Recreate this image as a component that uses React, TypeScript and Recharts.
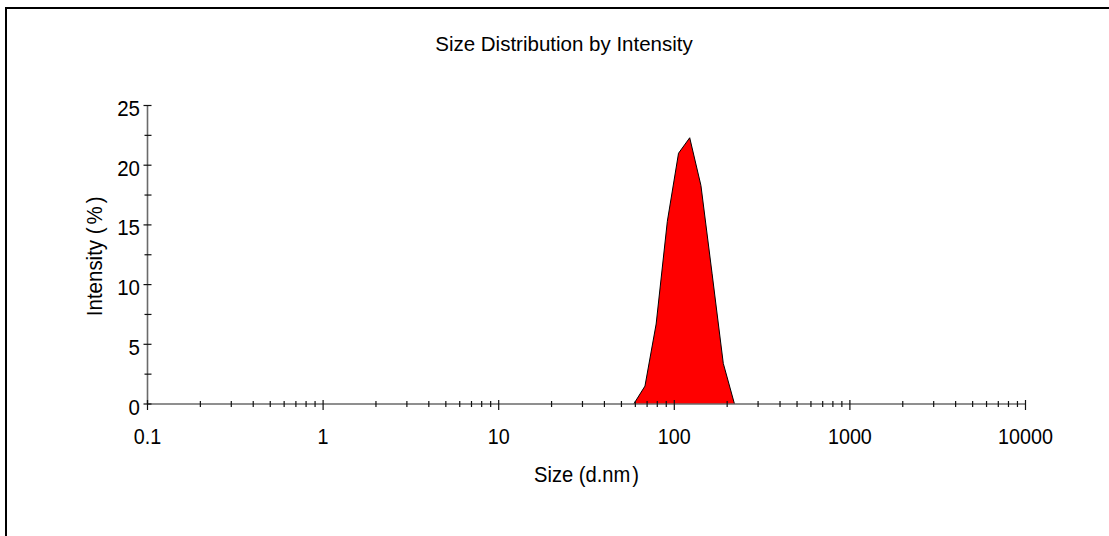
import React from 'react';
import { AreaChart, Area, XAxis, YAxis } from 'recharts';

// Particle size bins (d.nm) and intensity (%)
const sizes = [58.77, 68.06, 78.82, 91.28, 105.7, 122.4, 141.8, 164.2, 190.1, 220.2];
const intensity = [0, 1.5, 6.7, 15.3, 21.0, 22.3, 18.3, 10.9, 3.4, 0];

const xMajorTicks = [0.1, 1, 10, 100, 1000, 10000];
const xMajorLabels = ['0.1', '1', '10', '100', '1000', '10000'];
const xMinorMultipliers = [2, 3, 4, 5, 6, 7, 8, 9];
const yMajorTicks = [0, 5, 10, 15, 20, 25];
const yMinorTicks = [2.5, 7.5, 12.5, 17.5, 22.5];

const title = 'Size Distribution by Intensity';
const xLabelMain = 'Size (d.nm';
const xLabelEnd = ')';
const yLabelMain = 'Intensity (';
const yLabelPct = '%';
const yLabelEnd = ')';

const data = sizes.map((s, i) => ({ size: s, intensity: intensity[i] }));

const xAllTicks: number[] = [];
xMajorTicks.forEach((t, i) => {
  xAllTicks.push(t);
  if (i < xMajorTicks.length - 1) xMinorMultipliers.forEach((m) => xAllTicks.push(t * m));
});
const yAllTicks = [...yMajorTicks, ...yMinorTicks].sort((a, b) => a - b);

const FONT = '"Liberation Sans", Arial, sans-serif';

const majorIndex = (arr: number[], v: number) =>
  arr.findIndex((t) => Math.abs(t - v) / Math.max(t, 1e-9) < 1e-6 || Math.abs(t - v) < 1e-9);

const XTick = (props: any) => {
  const { x, y, payload } = props;
  const idx = majorIndex(xMajorTicks, payload.value);
  const major = idx >= 0;
  return (
    <g>
      <line x1={x} x2={x} y1={y - (major ? 4 : 3)} y2={y + (major ? 6 : 3)} stroke="#111" strokeWidth={1.2} />
      {major && (
        <text
          transform={`translate(${x}, ${y + 39.5}) scale(0.94, 1.06)`}
          textAnchor="middle"
          fontFamily={FONT}
          fontSize={21}
          fill="#000"
        >
          {xMajorLabels[idx]}
        </text>
      )}
    </g>
  );
};

const YTick = (props: any) => {
  const { x, y, payload } = props;
  const major = yMajorTicks.indexOf(payload.value) >= 0;
  return (
    <g>
      <line x1={x - (major ? 4 : 3)} x2={x + 4} y1={y} y2={y} stroke="#111" strokeWidth={1.2} />
      {major && (
        <text
          transform={`translate(${x - 7.5}, ${y + 10.5}) scale(1, 1.05)`}
          textAnchor="end"
          fontFamily={FONT}
          fontSize={20.5}
          fill="#000"
        >
          {String(payload.value)}
        </text>
      )}
    </g>
  );
};

export default function App() {
  return (
    <div style={{ position: 'absolute', left: 0, top: 0, width: 1109, height: 536, background: '#fff', overflow: 'hidden' }}>
      <div
        style={{
          position: 'absolute',
          left: 5,
          top: 7,
          width: 1200,
          height: 600,
          borderLeft: '2px solid #000',
          borderTop: '2px solid #000',
        }}
      />
      <AreaChart
        width={1109}
        height={536}
        data={data}
        margin={{ top: 105.5, right: 83.5, bottom: 92, left: 87.5 }}
        style={{ position: 'absolute', left: 0, top: 0 }}
      >
        <XAxis
          dataKey="size"
          type="number"
          scale="log"
          domain={[0.1, 10000]}
          allowDataOverflow
          ticks={xAllTicks}
          interval={0}
          tick={<XTick />}
          tickLine={false}
          tickSize={0}
          tickMargin={0}
          height={40}
          axisLine={{ stroke: '#6a6a6a', strokeWidth: 1.6 }}
          label={{
            content: (p: any) => {
              const vb = p.viewBox || {};
              return (
                <text
                  transform={`translate(${vb.x + vb.width / 2}, 481.5) scale(0.96, 1.06)`}
                  textAnchor="middle"
                  fontFamily={FONT}
                  fontSize={21}
                  fill="#000"
                >
                  {xLabelMain}
                  <tspan dx={2}>{xLabelEnd}</tspan>
                </text>
              );
            },
          }}
        />
        <YAxis
          type="number"
          domain={[0, 25]}
          ticks={yAllTicks}
          interval={0}
          tick={<YTick />}
          tickLine={false}
          tickSize={0}
          tickMargin={0}
          width={60}
          axisLine={{ stroke: '#6a6a6a', strokeWidth: 1.6 }}
          label={{
            content: (p: any) => {
              const vb = p.viewBox || {};
              const cy = vb.y + vb.height / 2 + 1.5;
              return (
                <text
                  transform={`translate(101.5, ${cy}) rotate(-90) scale(1, 1.05)`}
                  textAnchor="middle"
                  fontFamily={FONT}
                  fontSize={20.5}
                  fill="#000"
                >
                  {yLabelMain}
                  <tspan dx={3}>{yLabelPct}</tspan>
                  <tspan dx={3}>{yLabelEnd}</tspan>
                </text>
              );
            },
          }}
        />
        <Area
          type="linear"
          dataKey="intensity"
          stroke="#000"
          strokeWidth={1}
          fill="#ff0000"
          fillOpacity={1}
          baseValue={0}
          dot={false}
          activeDot={false}
          isAnimationActive={false}
        />
      </AreaChart>
      <svg width={1109} height={536} style={{ position: 'absolute', left: 0, top: 0, pointerEvents: 'none' }}>
        <text x={564} y={51} textAnchor="middle" fontFamily={FONT} fontSize={20.5} fill="#000">
          {title}
        </text>
      </svg>
    </div>
  );
}
